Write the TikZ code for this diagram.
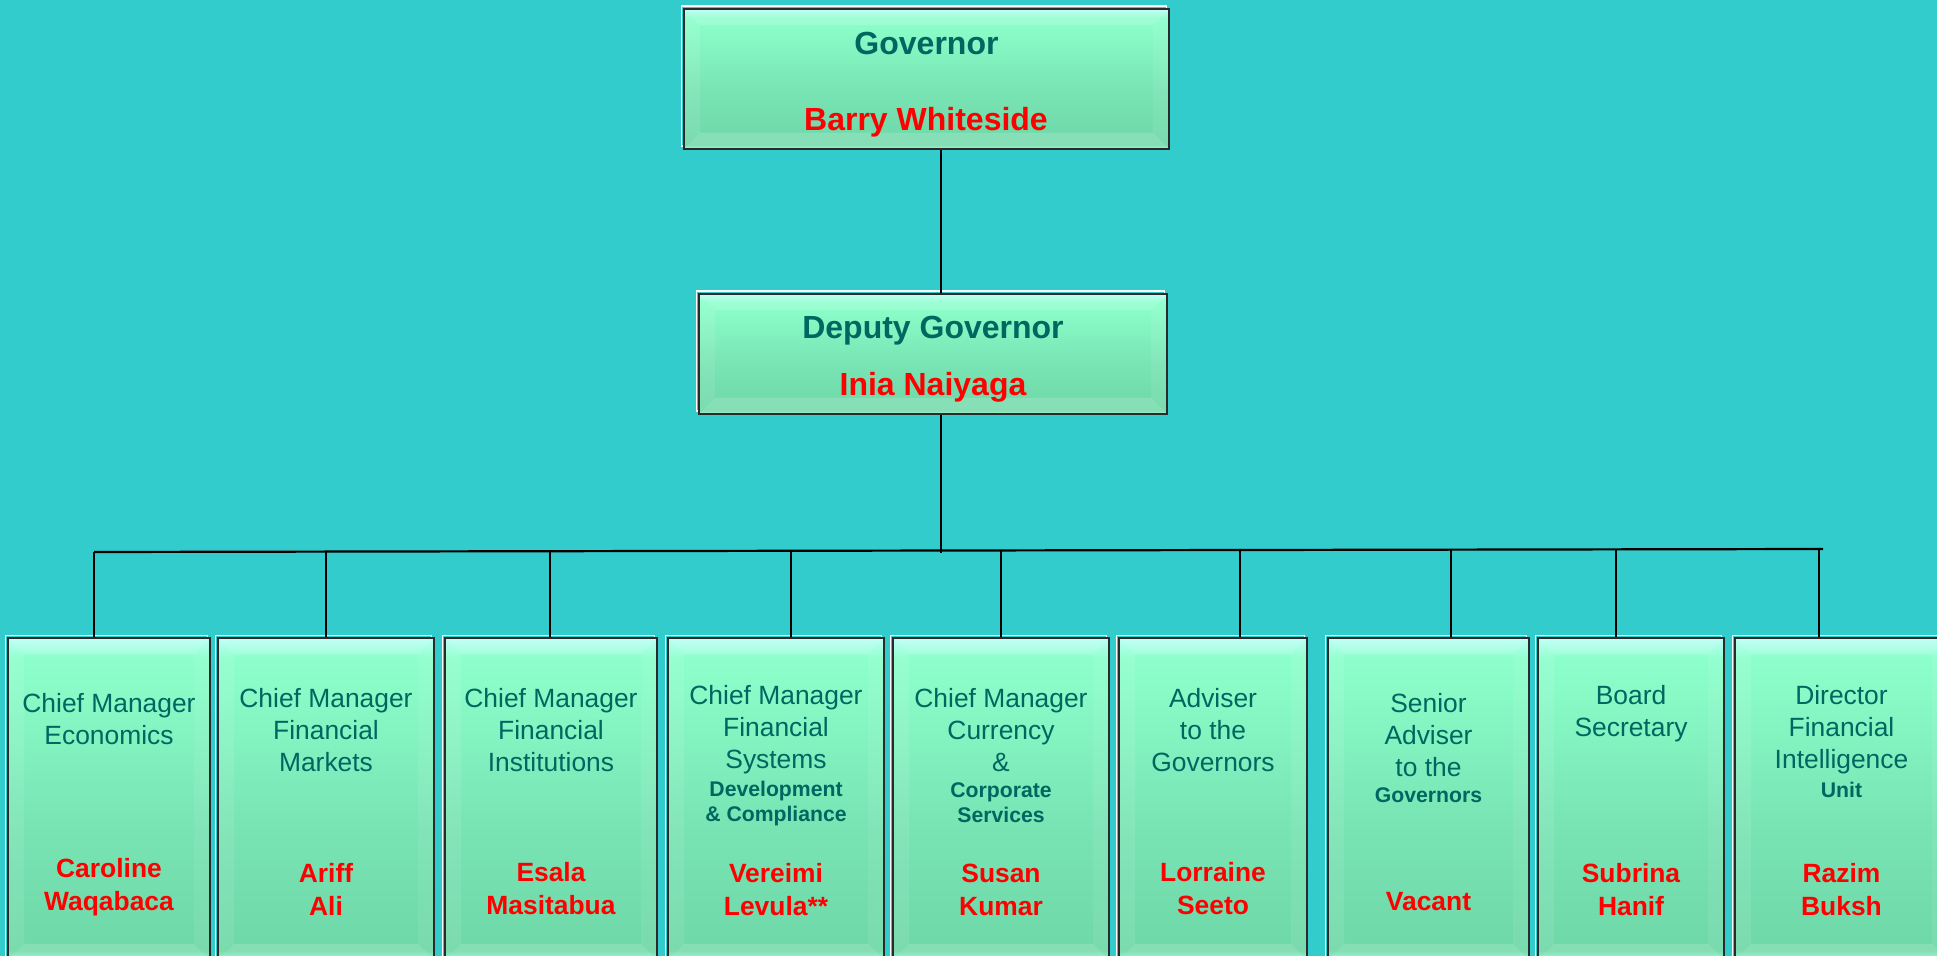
\documentclass[tikz,border=0pt]{standalone}
\usepackage{fontspec}
\setmainfont{Liberation Sans}
\definecolor{bgteal}{HTML}{33CCCC}
\definecolor{tealtext}{HTML}{006660}
\definecolor{boxedge}{HTML}{2A2A2A}
\definecolor{sBa}{HTML}{8CF8C8}
\definecolor{sBb}{HTML}{6FD8A8}
\definecolor{sBc}{HTML}{78E3B3}
\definecolor{sBd}{HTML}{88FAC6}
\definecolor{sBe}{HTML}{8CFFCC}
\definecolor{sBf}{HTML}{B6FFF6}
\pgfdeclareverticalshading{boxsh}{100bp}{color(0bp)=(sBa); color(25bp)=(sBa); color(26.5bp)=(sBb); color(45bp)=(sBc); color(66bp)=(sBd); color(72bp)=(sBe); color(75bp)=(sBf); color(100bp)=(sBf)}
\tikzset{
  bevel/.style={path picture={
    \path (path picture bounding box.north west) coordinate (pNW)
          (path picture bounding box.north east) coordinate (pNE)
          (path picture bounding box.south west) coordinate (pSW)
          (path picture bounding box.south east) coordinate (pSE);
    \fill[white,opacity=.16] (pNW) -- (pNE) -- ([shift={(-#1,-#1)}]pNE) -- ([shift={(#1,-#1)}]pNW) -- cycle;
    \fill[white,opacity=.09] (pNW) -- ([shift={(#1,-#1)}]pNW) -- ([shift={(#1,#1)}]pSW) -- (pSW) -- cycle;
    \fill[white,opacity=.07] (pNE) -- ([shift={(-#1,-#1)}]pNE) -- ([shift={(-#1,#1)}]pSE) -- (pSE) -- cycle;
    \fill[white,opacity=.16] (pSW) -- ([shift={(#1,#1)}]pSW) -- ([shift={(-#1,#1)}]pSE) -- (pSE) -- cycle;
  }},
  bx/.style 2 args={minimum width={#1*0.5pt}, minimum height={#2*0.5pt}, inner sep=0pt,
    shading=boxsh, draw=boxedge, line width=1.4pt, bevel=8pt,
    preaction={draw=white, line width=0.9pt, transform canvas={xshift=-1.3pt, yshift=1.3pt}}},
  ttl/.style={text=tealtext, font=\fontsize{13.2}{16}\selectfont, align=center, inner sep=0pt},
  subt/.style={text=tealtext, font=\bfseries\fontsize{10.6}{12.5}\selectfont, align=center, inner sep=0pt},
  nm/.style={text=red, font=\bfseries\fontsize{13.2}{16.5}\selectfont, align=center, inner sep=0pt},
  bigt/.style={text=tealtext, font=\bfseries\fontsize{16}{19}\selectfont, inner sep=0pt},
  bign/.style={text=red, font=\bfseries\fontsize{16}{19}\selectfont, inner sep=0pt},
  conn/.style={draw=black, line width=1.1pt}
}
\begin{document}
\begin{tikzpicture}[x=0.5pt, y=-0.5pt]
\fill[bgteal] (0,0) rectangle (1937,956);
\useasboundingbox (0,0) rectangle (1937,956);

% boxes
\node[bx={485}{140}] (gov) at (926.5,79) {};
\node[bx={468}{120}] (dep) at (933,354) {};
\node[bx={202}{322}] (b1) at (109,799) {};
\node[bx={216}{322}] (b2) at (326,799) {};
\node[bx={212}{322}] (b3) at (551,799) {};
\node[bx={216}{322}] (b4) at (776,799) {};
\node[bx={216}{322}] (b5) at (1001,799) {};
\node[bx={188}{322}] (b6) at (1213,799) {};
\node[bx={201}{322}] (b7) at (1428.5,799) {};
\node[bx={186}{322}] (b8) at (1631,799) {};
\node[bx={213}{322}] (b9) at (1841.5,799) {};

% connectors
\coordinate (spine) at (941,553);
\coordinate (busL) at (94,552);
\coordinate (busR) at (1823,549);
\draw[conn] (gov.south -| spine) -- (dep.north -| spine);
\draw[conn] (dep.south -| spine) -- (spine);
\draw[conn] (busL) -- (busR);
\coordinate (d1) at (94,552);
\coordinate (d2) at (326,551.5);
\coordinate (d3) at (550,551);
\coordinate (d4) at (791,550.5);
\coordinate (d5) at (1001,550.5);
\coordinate (d6) at (1240,550);
\coordinate (d7) at (1451,549.5);
\coordinate (d8) at (1616,549.5);
\coordinate (d9) at (1819,549);
\draw[conn] (d1) -- (d1 |- b1.north);
\draw[conn] (d2) -- (d2 |- b2.north);
\draw[conn] (d3) -- (d3 |- b3.north);
\draw[conn] (d4) -- (d4 |- b4.north);
\draw[conn] (d5) -- (d5 |- b5.north);
\draw[conn] (d6) -- (d6 |- b6.north);
\draw[conn] (d7) -- (d7 |- b7.north);
\draw[conn] (d8) -- (d8 |- b8.north);
\draw[conn] (d9) -- (d9 |- b9.north);

% top texts
\node[bigt] (g1) at (926.5,43) {Governor};
\node[bign] (g2) at (926,122) {Barry Whiteside};
\node[bigt] (dp1) at (933,331) {Deputy Governor};
\node[bign] (dp2) at (933,387) {Inia Naiyaga};

% titles
\node[ttl] (t1) at (109,719) {Chief Manager\\Economics};
\node[ttl] (t2) at (326,730) {Chief Manager\\Financial\\Markets};
\node[ttl] (t3) at (551,730) {Chief Manager\\Financial\\Institutions};
\node[ttl] (t4) at (776,730) {Chief Manager\\Financial\\Systems};
\node[subt] (s4) at (776,804) {Development\\\& Compliance};
\node[ttl] (t5) at (1001,730) {Chief Manager\\Currency\\\&};
\node[subt] (s5) at (1001,803) {Corporate\\Services};
\node[ttl] (t6) at (1213,730) {Adviser\\to the\\Governors};
\node[ttl] (t7) at (1428.5,735) {Senior\\Adviser\\to the};
\node[subt] (s7) at (1428.5,795) {Governors};
\node[ttl] (t8) at (1631,714) {Board\\Secretary};
\node[ttl] (t9) at (1841.5,730) {Director\\Financial\\Intelligence};
\node[subt] (s9) at (1841.5,790) {Unit};

% names
\node[nm] (n1) at (109,887.5) {Caroline\\Waqabaca};
\node[nm] (n2) at (326,889.5) {Ariff\\Ali};
\node[nm] (n3) at (551,889) {Esala\\Masitabua};
\node[nm] (n4) at (776,889.5) {Vereimi\\Levula**};
\node[nm] (n5) at (1001,889.5) {Susan\\Kumar};
\node[nm] (n6) at (1213,889) {Lorraine\\Seeto};
\node[nm] (n7) at (1428.5,902) {Vacant};
\node[nm] (n8) at (1631,889.5) {Subrina\\Hanif};
\node[nm] (n9) at (1841.5,889.5) {Razim\\Buksh};
\end{tikzpicture}
\end{document}
